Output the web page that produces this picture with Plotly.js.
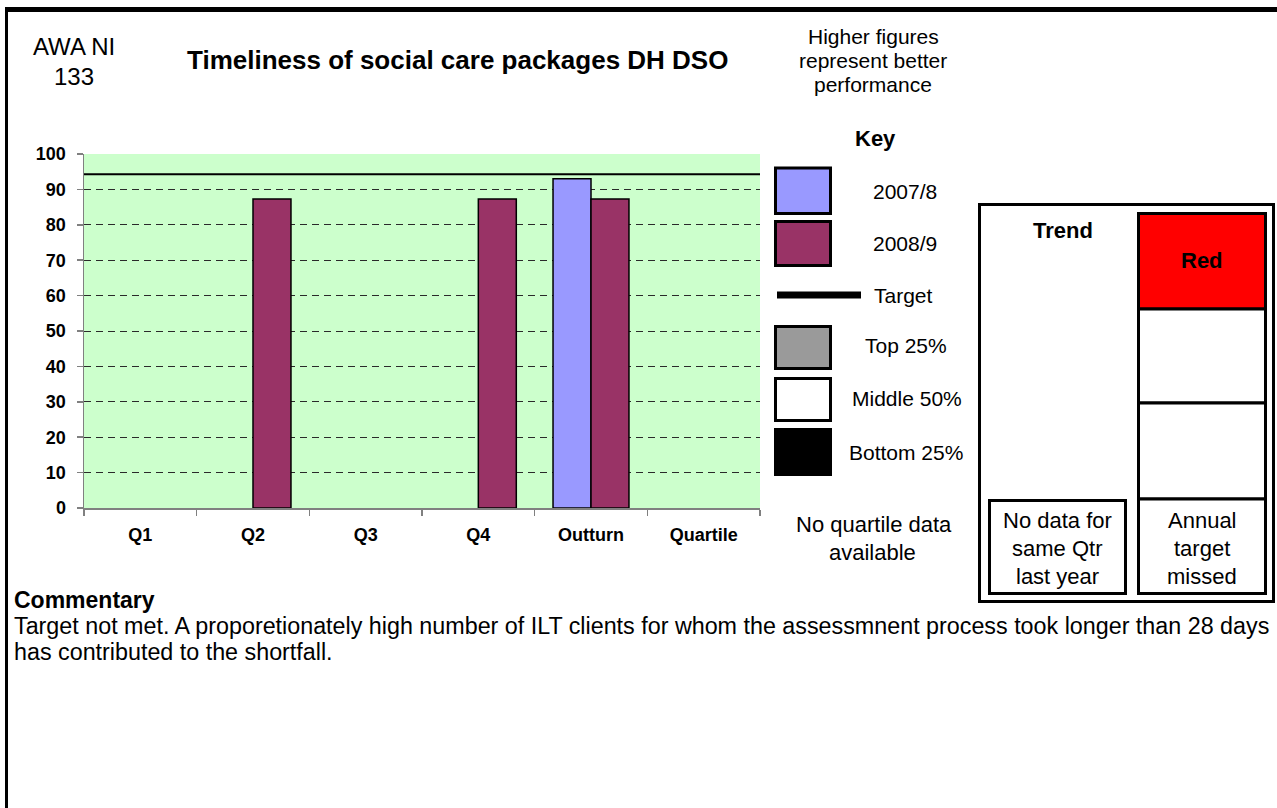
<!DOCTYPE html>
<html>
<head>
<meta charset="utf-8">
<script src="https://cdn.plot.ly/plotly-3.0.1.min.js"></script>
<style>
html,body{margin:0;padding:0;background:#fff;}
#chart{width:1277px;height:808px;}
</style>
</head>
<body>
<div id="chart"></div>
<script>
// ---- data ----
const categories = ['Q1', 'Q2', 'Q3', 'Q4', 'Outturn', 'Quartile'];
const series2007 = [null, null, null, null, 93.0, null];
const series2008 = [null, 87.3, null, 87.3, 87.3, null];
const targetValue = 94.3;
const yTickValues = [0, 10, 20, 30, 40, 50, 60, 70, 80, 90, 100];
const seriesNames = ['2007/8', '2008/9'];
const keyLabels = ['2007/8', '2008/9', 'Target', 'Top 25%', 'Middle 50%', 'Bottom 25%'];
const commentaryLines = [
  'Target not met. A proporetionately high number of ILT clients for whom the assessmnent process took longer than 28 days',
  'has contributed to the shortfall.'
];

// ---- layout helpers ----
const W = 1277, H = 808;
const FONT = 'Arial, "Liberation Sans", sans-serif';
const px = x => x / W;
const py = y => 1 - y / H;

const traces = [
  {
    type: 'bar', name: seriesNames[0], x: categories, y: series2007,
    marker: {color: '#9999FF', line: {color: '#000', width: 1.5}},
    hoverinfo: 'x+y+name'
  },
  {
    type: 'bar', name: seriesNames[1], x: categories, y: series2008,
    marker: {color: '#993366', line: {color: '#000', width: 1.5}},
    hoverinfo: 'x+y+name'
  }
];

const shapes = [];
const annotations = [];

function rect(x0, y0, x1, y1, fill, lw) {
  shapes.push({type: 'rect', xref: 'paper', yref: 'paper',
    x0: px(x0), x1: px(x1), y0: py(y0), y1: py(y1),
    fillcolor: fill, line: {color: '#000', width: lw}, layer: 'above'});
}
function line(x0, y0, x1, y1, lw) {
  shapes.push({type: 'line', xref: 'paper', yref: 'paper',
    x0: px(x0), x1: px(x1), y0: py(y0), y1: py(y1),
    line: {color: '#000', width: lw}, layer: 'above'});
}
function text(t, x, y, size, bold, anchor) {
  annotations.push({xref: 'paper', yref: 'paper', x: px(x), y: py(y),
    text: t, showarrow: false, xanchor: anchor || 'center', yanchor: 'middle',
    font: {family: FONT, size: size, color: '#000', weight: bold ? 'bold' : 'normal'}});
}

// target line across plot
shapes.push({type: 'line', xref: 'x domain', yref: 'y', x0: 0, x1: 1,
  y0: targetValue, y1: targetValue, line: {color: '#000', width: 2}, layer: 'above'});

// outer frame
line(5, 9.5, 1277, 9.5, 5);
line(6.5, 7, 6.5, 808, 3);

// header texts
text('AWA NI', 74, 46, 24, false);
text('133', 74, 77, 24, false);
text('Timeliness of social care packages DH DSO', 457, 60, 26, true);
text('Higher figures', 873, 36, 21, false);
text('represent better', 873, 61, 21, false);
text('performance', 873, 85, 21, false);

// key
text('Key', 875, 138, 22, true);
rect(775.5, 168, 830.5, 213.5, '#9999FF', 3);
rect(775.5, 221.5, 830.5, 265.5, '#993366', 3);
line(777, 295, 861, 295, 7);
rect(775.5, 326.5, 830.5, 368.5, '#9a9a9a', 3);
rect(775.5, 378.5, 830.5, 420.5, '#ffffff', 3);
rect(775.5, 429.5, 830.5, 474.5, '#000000', 3);
text(keyLabels[0], 905, 191, 21, false);
text(keyLabels[1], 905, 243.5, 21, false);
text(keyLabels[2], 903, 295.5, 21, false);
text(keyLabels[3], 906, 345.5, 21, false);
text(keyLabels[4], 907, 398.5, 21, false);
text(keyLabels[5], 906, 452.5, 21, false);
text('No quartile data', 874, 524.5, 22, false);
text('available', 872, 552.5, 22, false);

// trend box
rect(979.5, 204.5, 1273.5, 601.5, 'rgba(0,0,0,0)', 3);
rect(1138.5, 213.5, 1265.5, 309, '#FF0000', 3);
rect(1138.5, 309, 1265.5, 403, '#ffffff', 3);
rect(1138.5, 403, 1265.5, 499, '#ffffff', 3);
rect(1138.5, 499, 1265.5, 593.5, '#ffffff', 3);
rect(989.5, 500.5, 1125.5, 593.5, '#ffffff', 3);
text('Trend', 1063, 231, 22, true);
text('Red', 1202, 261, 22, true);
text('No data for', 1057, 520.5, 22, false);
text('same Qtr', 1057, 548.5, 22, false);
text('last year', 1057, 576.5, 22, false);
text('Annual', 1202, 520.5, 22, false);
text('target', 1202, 548.5, 22, false);
text('missed', 1202, 576.5, 22, false);

// commentary
text('Commentary', 12, 599.5, 23, true, 'left');
text(commentaryLines[0], 12, 625.5, 23.3, false, 'left');
text(commentaryLines[1], 12, 651.5, 23.3, false, 'left');

const layout = {
  width: W, height: H,
  margin: {l: 0, r: 0, t: 0, b: 0},
  paper_bgcolor: '#ffffff',
  plot_bgcolor: '#CCFFCC',
  showlegend: false,
  barmode: 'group',
  bargap: 0.326,
  bargroupgap: 0,
  font: {family: FONT, color: '#000'},
  xaxis: {
    type: 'category', categoryorder: 'array', categoryarray: categories,
    domain: [px(84), px(760)],
    showline: true, linecolor: '#808080', linewidth: 1.5,
    ticks: 'outside', tickson: 'boundaries', ticklen: 6, tickcolor: '#808080', tickwidth: 1.5,
    showgrid: false, zeroline: false,
    tickfont: {family: FONT, size: 18, color: '#000', weight: 'bold'},
    ticklabelstandoff: 10,
    fixedrange: true
  },
  yaxis: {
    range: [0, 100], domain: [py(508), py(154)],
    tickmode: 'array', tickvals: yTickValues, ticktext: yTickValues.map(String),
    showline: true, linecolor: '#808080', linewidth: 1.5,
    ticks: 'outside', ticklen: 6, tickcolor: '#808080', tickwidth: 1.5,
    showgrid: true, gridcolor: '#2a2a2a', gridwidth: 1, griddash: '7px,5px',
    zeroline: false,
    tickfont: {family: FONT, size: 18, color: '#000', weight: 'bold'},
    ticklabelstandoff: 7,
    fixedrange: true
  },
  shapes: shapes,
  annotations: annotations
};

Plotly.newPlot('chart', traces, layout, {displayModeBar: false, staticPlot: true});
</script>
</body>
</html>
